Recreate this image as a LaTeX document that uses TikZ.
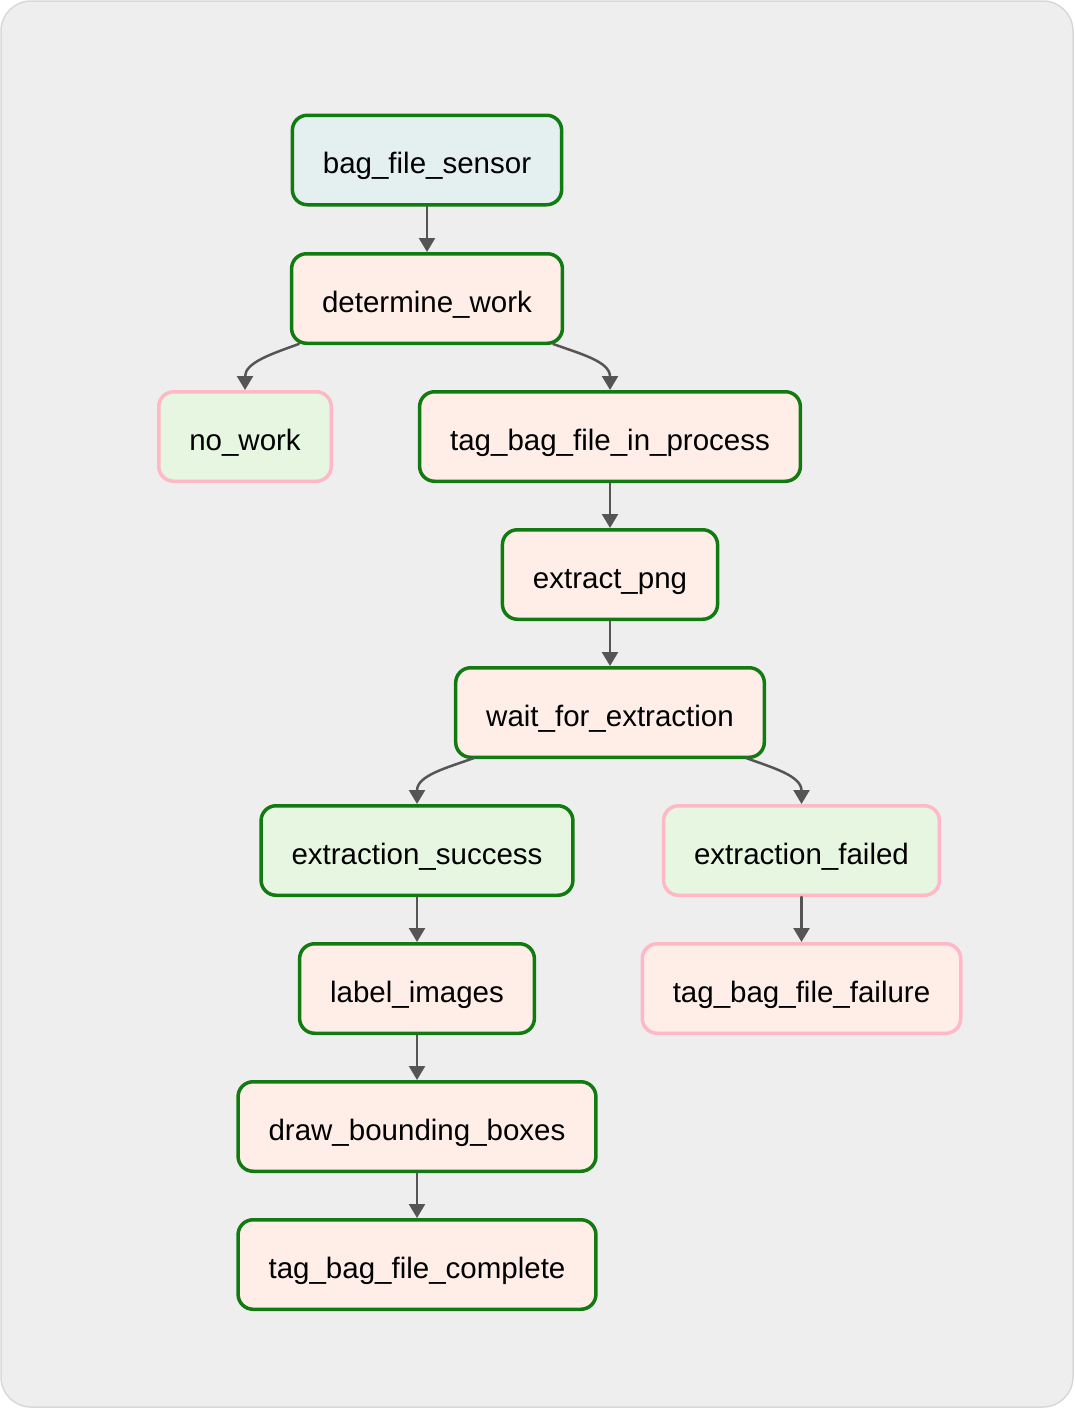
\documentclass[tikz,border=0pt]{standalone}
\usepackage{fontspec}
\setmainfont{Liberation Sans}
\usetikzlibrary{arrows.meta}
\definecolor{bggray}{HTML}{EEEEEE}
\definecolor{bgline}{HTML}{D8D8D8}
\definecolor{runfill}{HTML}{FFEEE8}
\definecolor{sensorfill}{HTML}{E4EFF0}
\definecolor{emptyfill}{HTML}{E6F6E1}
\definecolor{okgreen}{HTML}{117A11}
\definecolor{skippink}{HTML}{FFB8C6}
\definecolor{linkgray}{HTML}{555555}
\begin{document}
\begin{tikzpicture}[x=1pt,y=1pt,line join=round,line cap=round,font=\fontsize{29.5}{34}\selectfont,
	task/.style={draw=okgreen,fill=runfill,line width=3.5pt,rounded corners=15pt,minimum height=89.5pt,inner xsep=30.5pt,inner ysep=0pt,text height=27pt,text depth=0pt},
	sensor/.style={task,fill=sensorfill},
	empty/.style={task,fill=emptyfill},
	skipped/.style={draw=skippink},
	link/.style={draw=linkgray,line width=2.5pt,-{Triangle[length=14pt,width=16pt]}}]
	\useasboundingbox (0,0) rectangle (1074,-1408);
	\draw[fill=bggray,draw=bgline,line width=1.5pt,rounded corners=30pt] (1,-1) rectangle (1073,-1407);
	% tasks
	\node[sensor] (bag_file_sensor) at (427,-160) {bag\_file\_sensor};
	\node[task] (determine_work) at (427,-298.5) {determine\_work};
	\node[empty,skipped] (no_work) at (245,-436.5) {no\_work};
	\node[task] (tag_in_process) at (610,-436.5) {tag\_bag\_file\_in\_process};
	\node[task] (extract_png) at (610,-574.5) {extract\_png};
	\node[task] (wait_extraction) at (610,-712.5) {wait\_for\_extraction};
	\node[empty] (extraction_success) at (417,-850.5) {extraction\_success};
	\node[empty,skipped] (extraction_failed) at (801.5,-850.5) {extraction\_failed};
	\node[task] (label_images) at (417,-988.5) {label\_images};
	\node[task,skipped] (tag_failure) at (801.5,-988.5) {tag\_bag\_file\_failure};
	\node[task] (draw_boxes) at (417,-1126.5) {draw\_bounding\_boxes};
	\node[task] (tag_complete) at (417,-1264.5) {tag\_bag\_file\_complete};
	% dependencies
	\draw[link] (bag_file_sensor) -- (determine_work);
	\draw[link] ([xshift=9pt,yshift=1pt]determine_work.south west) to[out=-160,in=90] (no_work.north);
	\draw[link] ([xshift=-11pt,yshift=1pt]determine_work.south east) to[out=-20,in=90] (tag_in_process.north);
	\draw[link] (tag_in_process) -- (extract_png);
	\draw[link] (extract_png) -- (wait_extraction);
	\draw[link] ([xshift=20pt,yshift=1pt]wait_extraction.south west) to[out=-160,in=90] (extraction_success.north);
	\draw[link] ([xshift=-20pt,yshift=1pt]wait_extraction.south east) to[out=-20,in=90] (extraction_failed.north);
	\draw[link] (extraction_success) -- (label_images);
	\draw[link] (extraction_failed) -- (tag_failure);
	\draw[link] (label_images) -- (draw_boxes);
	\draw[link] (draw_boxes) -- (tag_complete);
\end{tikzpicture}
\end{document}
